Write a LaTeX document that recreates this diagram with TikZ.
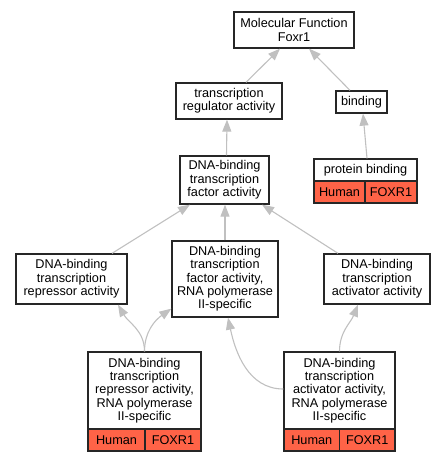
\documentclass[tikz,border=0pt]{standalone}
\usepackage{fontspec}
\setmainfont{Liberation Sans}
\usepackage{tikz}
\usetikzlibrary{arrows.meta,positioning}
\definecolor{genecell}{RGB}{255,99,71}
\definecolor{edgegray}{RGB}{192,192,192}
\tikzset{
x=1pt, y=-1pt, % pixel grid, y pointing down
term/.style={draw=black!85, line width=1.3pt, fill=white, inner sep=0pt, align=center,
  font=\fontsize{12.7}{13.3}\selectfont}, % sets the properties for each term box
gene/.style={term, fill=genecell, minimum height=22}, % the Human / FOXR1 cells
edge/.style={draw=edgegray, line width=1.1pt, -{Triangle[length=12pt,width=9pt]}} % is_a links
}
\begin{document}
\begin{tikzpicture}
    \useasboundingbox (0,0) rectangle (447,461);
    % upper part
    \node[term, minimum width=120, minimum height=36] (mf) at (294,30) {Molecular Function\\Foxr1};
    \node[term, minimum width=106, minimum height=36] (tra) at (229,101) {transcription\\regulator activity};
    \node[term, minimum width=51, minimum height=22] (bind) at (361.5,102) {binding};
    \node[term, minimum width=89, minimum height=48] (dbtf) at (224.5,180) {DNA-binding\\transcription\\factor activity};
    \node[term, minimum width=103, minimum height=22] (pb) at (365.5,170) {protein binding};
    \node[gene, minimum width=51] (pbh) at (339.5,192) {Human};
    \node[gene, minimum width=52] (pbf) at (391,192) {FOXR1};
    % middle row
    \node[term, minimum width=111, minimum height=50] (rep) at (71.5,279) {DNA-binding\\transcription\\repressor activity};
    \node[term, minimum width=106, minimum height=76] (rnaf) at (225,279) {DNA-binding\\transcription\\factor activity,\\RNA polymerase\\II-specific};
    \node[term, minimum width=106, minimum height=50] (act) at (377,279) {DNA-binding\\transcription\\activator activity};
    % bottom row
    \node[term, minimum width=113, minimum height=77] (reprna) at (144.5,390.5) {DNA-binding\\transcription\\repressor activity,\\RNA polymerase\\II-specific};
    \node[gene, minimum width=57] (reprnah) at (116.5,440) {Human};
    \node[gene, minimum width=56] (reprnaf) at (173,440) {FOXR1};
    \node[term, minimum width=111, minimum height=77] (actrna) at (339.5,390.5) {DNA-binding\\transcription\\activator activity,\\RNA polymerase\\II-specific};
    \node[gene, minimum width=55.5] (actrnah) at (311.75,440) {Human};
    \node[gene, minimum width=55.5] (actrnaf) at (367.25,440) {FOXR1};
    % links
    \draw[edge] ([xshift=17pt]tra.north) -- ([xshift=-14pt]mf.south);
    \draw[edge] ([xshift=-11.5pt]bind.north) -- ([xshift=15pt]mf.south);
    \draw[edge] ([xshift=2pt]dbtf.north) -- ([xshift=-2pt]tra.south);
    \draw[edge] ([xshift=1.5pt]pb.north) -- ([xshift=1.5pt]bind.south);
    \draw[edge] ([xshift=40.5pt]rep.north) -- ([xshift=-34.5pt]dbtf.south);
    \draw[edge] (rnaf.north) -- (dbtf.south -| rnaf.north);
    \draw[edge] ([xshift=-39pt]act.north) -- ([xshift=37.5pt]dbtf.south);
    \draw[edge] (reprna.north) to[out=90, in=-60] ([xshift=46.5pt]rep.south);
    \draw[edge] (reprna.north) to[out=90, in=-145] ([yshift=9pt]rnaf.south west);
    \draw[edge] ([yshift=1.5pt]actrna.west) to[out=180, in=-78] ([xshift=3pt]rnaf.south);
    \draw[edge] (actrna.north) to[out=90, in=-112] ([xshift=-19pt]act.south);
\end{tikzpicture}
\end{document}
